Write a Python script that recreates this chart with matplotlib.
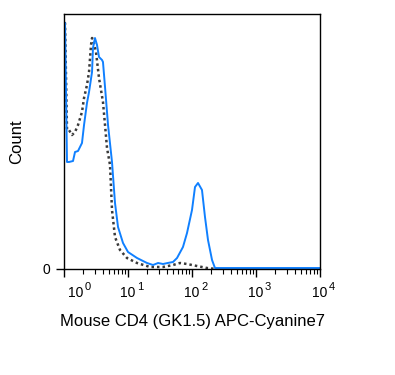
import numpy as np
import matplotlib.pyplot as plt

plt.rcParams['font.family'] = ['Liberation Sans', 'DejaVu Sans']

# stained sample (solid blue): log10 fluorescence, count
stained_log = [0.005, 0.016, 0.047, 0.078, 0.141, 0.172, 0.219, 0.281, 0.313,
               0.359, 0.391, 0.438, 0.453, 0.484, 0.516, 0.547, 0.594, 0.609,
               0.641, 0.688, 0.75, 0.797, 0.844, 0.922, 1.0, 1.141, 1.297,
               1.391, 1.47, 1.547, 1.62, 1.703, 1.766, 1.859, 1.922, 2.0,
               2.047, 2.094, 2.156, 2.203, 2.25, 2.313, 2.359, 3.0, 4.0]
stained_count = [246, 246, 107, 107, 108, 117, 118, 126, 144,
                 166, 177, 197, 221, 231, 224, 212, 209, 207,
                 182, 144, 107, 66, 42, 26, 17, 11, 6,
                 4, 6, 5, 6, 7, 11, 22, 36, 59,
                 82, 86, 79, 52, 29, 9, 1, 1, 1]

# isotype control (dotted gray)
control_log = [0.005, 0.016, 0.047, 0.078, 0.125, 0.172, 0.219, 0.281, 0.313,
               0.359, 0.391, 0.422, 0.438, 0.453, 0.5, 0.547, 0.609, 0.641,
               0.672, 0.719, 0.75, 0.797, 0.875, 0.984, 1.141, 1.344, 1.547,
               1.703, 1.813, 1.922, 2.078, 2.234, 2.391]
control_count = [246, 246, 139, 139, 134, 137, 144, 157, 171,
                 184, 197, 224, 231, 230, 217, 191, 167, 144,
                 121, 104, 59, 32, 19, 11, 6, 2, 2,
                 4, 6, 5, 3, 1, 0]

decades = [0, 1, 2, 3, 4]
x_label = 'Mouse CD4 (GK1.5) APC-Cyanine7'
y_label = 'Count'


def plot_histogram():
    fig = plt.figure(figsize=(3.95, 3.75), dpi=100)
    ax = fig.add_axes([64 / 395, 1 - 269 / 375, 256 / 395, 255 / 375])

    ax.plot(10 ** np.array(control_log), control_count, color='#3a3a3a',
            linestyle=(0, (1, 1.2)), linewidth=1.8)
    ax.plot(10 ** np.array(stained_log), stained_count, color='#1080ff',
            linewidth=1.4)

    ax.set_xscale('log')
    ax.set_xlim(1, 1e4)
    ax.set_ylim(0, 255)
    ax.set_xticks([10 ** d for d in decades])
    ax.set_yticks([0])
    ax.set_yticklabels(['0'])

    for s in ax.spines.values():
        s.set_linewidth(1.0)
        s.set_color('black')

    ax.tick_params(axis='x', which='major', length=6, width=1, labelbottom=False)
    ax.tick_params(axis='x', which='minor', length=3.5, width=0.8)
    ax.tick_params(axis='y', length=6, width=1, labelsize=10, pad=4)

    # "10" plus a raised exponent, like the cytometry software draws them
    for d in decades:
        shift = 12 if d == 0 else 0
        ax.annotate('10', xy=(10 ** d, 0), xycoords=('data', 'axes fraction'),
                    xytext=(shift * 0.72, -20.2), textcoords='offset points',
                    ha='center', va='baseline', fontsize=10)
        ax.annotate(str(d), xy=(10 ** d, 0), xycoords=('data', 'axes fraction'),
                    xytext=((shift + 9) * 0.72, -15.0), textcoords='offset points',
                    ha='left', va='baseline', fontsize=8)

    fig.text(192 / 395, 1 - 326 / 375, x_label, fontsize=12,
             ha='center', va='baseline')
    fig.text(17 / 395, 1 - 141.5 / 375, y_label, fontsize=12,
             ha='center', va='center', rotation=90)

    fig.savefig('out.png', dpi=100)


def main():
    plot_histogram()


if __name__ == "__main__":
    main()
